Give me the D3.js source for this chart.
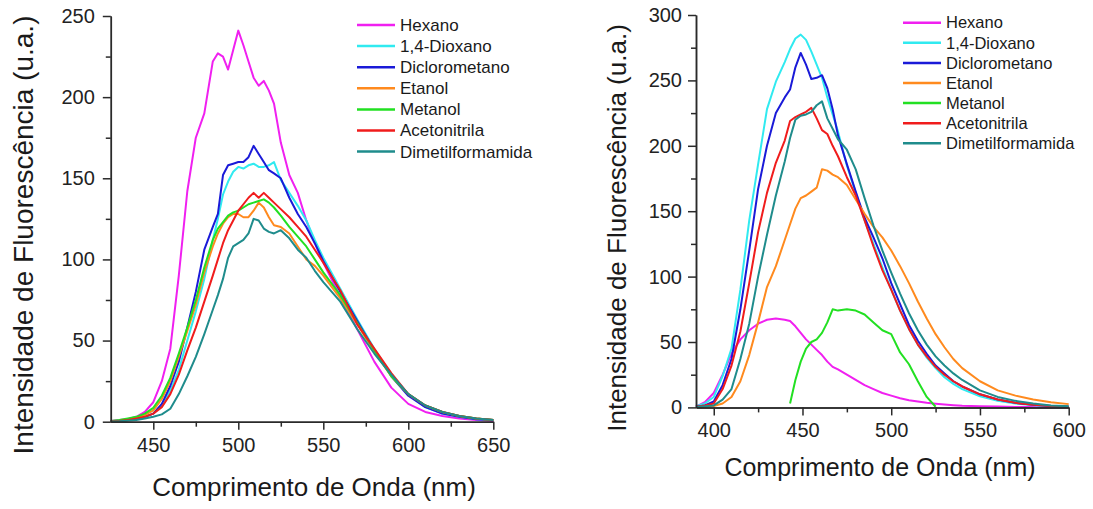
<!DOCTYPE html>
<html>
<head>
<meta charset="utf-8">
<script src="https://cdn.jsdelivr.net/npm/d3@7"></script>
<style>
  html, body { margin: 0; padding: 0; background: #fff; }
  svg { display: block; font-family: "Liberation Sans", Arial, sans-serif; }
</style>
</head>
<body>
<svg id="chart" width="1093" height="509"></svg>
<script>
// legenda / cores
const solventes = ["Hexano", "1,4-Dioxano", "Diclorometano", "Etanol", "Metanol", "Acetonitrila", "Dimetilformamida"];
const cores = ["#f020f0", "#30eaf0", "#1a1ad8", "#ff8a1e", "#22e022", "#f01c1c", "#1f8c8c"];

// painel esquerdo
const leftWl = [425,430,435,440,445,450,455,460,465,470,475,480,485,488,491,494,497,500,503,506,509,512,515,518,521,525,530,535,540,545,550,560,570,580,590,600,610,620,630,640,650];
const leftHexano   = [0.5,1,1.5,3,6,12,25,45,90,142,175,190,222,227,225,217,229,241,232,222,212,207,210,204,196,172,152,141,124,110,98,77,57,37,21,11,6,3.5,2,1,0.5];
const leftDioxano  = [0.3,0.5,1,2,3,5,10,19,32,50,68,88,112,125,140,148,154,157,156,158,159,157,157,158,160,149,141,133,124,112,101,82,63,45,29,17,9,5,3,1.5,1];
const leftDcm      = [0.3,0.5,1,2,3,5,11,22,37,58,80,106,120,128,152,158,159,160,160,163,170,165,160,155,153,150,138,128,120,110,99,80,62,44,28,16,9,5,3,1.5,1];
const leftEtanol   = [0.3,0.6,1.2,2.5,4,7,14,25,40,56,72,92,108,116,122,126,128,128,126,126,130,135,132,126,121,120,116,108,100,96,90,76,60,43,28,17,10,6,3.5,2,1];
const leftMetanol  = [0.5,1,2,3,5,8.5,16,27,42,58,75,95,112,119,123,127,129,130,132,134,135,136,137,135,132,127,120,114,108,100,92,78,61,44,28,17,10,6,3.5,2,1];
const leftAcn      = [0.3,0.5,1,2,3,5,9,17,29,44,58,74,90,100,110,118,124,130,134,138,141,138,141,138,135,131,126,120,114,106,98,81,60,45,30,17,10,6,3.5,2,1];
const leftDmf      = [0.2,0.3,0.6,1,2,3,4.5,8,17,28,40,54,69,78,88,101,108,110,112,116,125,124,119,117,116,118,113,106,101,93,86,74,57,42,29,17,10,6,3.5,2,1];

// painel direito
const rightWl = [390,395,400,405,410,415,420,425,430,435,440,443,446,449,452,455,458,461,464,467,470,475,480,485,490,495,500,505,510,515,520,525,530,535,540,550,560,570,580,590,600];
const rightHexano  = [0.5,4,11,25,41,52,59,64,67,68,67,66,62,57,52,48,44,40,35,31,29,25,21,17,14,11,9,7,5.5,4.5,3.5,2.8,2.2,1.7,1.3,0.9,0.6,0.4,0.3,0.2,0.2];
const rightDioxano = [1,3,8,24,45,90,143,186,228,249,264,274,282,285,281,272,262,252,237,224,211,185,164,143,125,107,90,74,60,48,38,30,23,18,14,8.5,5,3,1.6,0.9,0.5];
const rightDcm     = [0.5,1.5,4.5,17,37,75,120,167,200,225,237,243,260,271,262,251,252,254,244,228,208,186,165,145,130,114,95,79,63,51,41,32,26,20,16,10,6,3.5,2,1,0.5];
const rightEtanol  = [0.2,0.5,1,3,8,20,40,65,92,108,128,140,152,160,162,165,168,182,181,178,176,170,159,148,138,130,120,108,95,81,68,56,46,37,30,20,13,9,6,4,2.5];
const rightMetanol = [null,null,null,null,null,null,null,null,null,null,null,3,21,35,45,50,52,57,65,75,74,75,74,71,65,59,56,42,33,20,8,0.5,null,null,null,null,null,null,null,null,null];
const rightAcn     = [0.5,1.5,3,14,32,58,95,134,164,187,204,219,222,224,226,229,221,212,209,200,192,176,162,143,123,105,90,74,60,48,39,31,25,20,16,10,6,3.5,2,1,0.5];
const rightDmf     = [0.3,0.8,1.5,6,14,37,64,100,132,162,188,206,220,223,224,226,231,234,221,213,205,197,182,160,139,120,103,87,72,59,48,39,32,26,21,13,8,5,3,1.5,0.8];

const leftSeries  = [leftHexano, leftDioxano, leftDcm, leftEtanol, leftMetanol, leftAcn, leftDmf];
const rightSeries = [rightHexano, rightDioxano, rightDcm, rightEtanol, rightMetanol, rightAcn, rightDmf];

const svg = d3.select("#chart");
svg.append("rect").attr("width", 1093).attr("height", 509).attr("fill", "#fff");

function drawPanel(p) {
    const x = d3.scaleLinear().domain(p.xDomain).range(p.xRange);
    const y = d3.scaleLinear().domain(p.yDomain).range(p.yRange);
    const g = svg.append("g");

    const line = d3.line()
        .defined(d => d[1] != null)
        .x(d => x(d[0]))
        .y(d => y(d[1]));

    g.append("g")
        .selectAll("path")
        .data(p.series)
        .enter().append("path")
        .attr("d", s => line(p.wl.map((w, i) => [w, s[i]])))
        .attr("fill", "none")
        .attr("stroke", (s, i) => cores[i])
        .attr("stroke-width", 2)
        .attr("stroke-linejoin", "round");

    // eixos: ticks menores primeiro, depois maiores
    const xMinor = d3.axisBottom(x).tickValues(p.xMinor).tickSize(5).tickSizeOuter(0).tickFormat("");
    const yMinor = d3.axisLeft(y).tickValues(p.yMinor).tickSize(5).tickSizeOuter(0).tickFormat("");
    const xMajor = d3.axisBottom(x).tickValues(p.xTicks).tickSize(8).tickSizeOuter(0).tickPadding(p.xPad);
    const yMajor = d3.axisLeft(y).tickValues(p.yTicks).tickSize(8).tickSizeOuter(0).tickPadding(p.yPad);

    [[xMinor, "x"], [xMajor, "x"], [yMinor, "y"], [yMajor, "y"]].forEach(([ax, k]) => {
        const a = g.append("g")
            .attr("transform", k === "x" ? `translate(0,${p.yRange[0]})` : `translate(${p.xRange[0]},0)`)
            .call(ax);
        a.selectAll("path, line").attr("stroke", "#2a2a2a").attr("stroke-width", 1.5);
        a.selectAll("text").attr("font-size", 20).attr("fill", "#222")
            .attr("font-family", "'Liberation Sans', Arial, sans-serif");
    });

    g.append("text")
        .attr("x", p.xTitle[0]).attr("y", p.xTitle[1])
        .attr("text-anchor", "middle")
        .attr("font-size", p.xTitleSize)
        .attr("fill", "#1a1a1a")
        .text("Comprimento de Onda (nm)");

    g.append("text")
        .attr("transform", `translate(${p.yTitle[0]},${p.yTitle[1]}) rotate(-90)`)
        .attr("text-anchor", "middle")
        .attr("font-size", p.yTitleSize)
        .attr("fill", "#1a1a1a")
        .text("Intensidade de Fluorescência (u.a.)");

    const leg = g.append("g")
        .selectAll("g")
        .data(solventes)
        .enter().append("g")
        .attr("transform", (d, i) => `translate(${p.legX},${p.legY + i * p.legStep})`);
    leg.append("line")
        .attr("x1", 0).attr("x2", 38)
        .attr("stroke", (d, i) => cores[i])
        .attr("stroke-width", 2.5);
    leg.append("text")
        .attr("x", 43).attr("dy", "0.35em")
        .attr("font-size", p.legSize)
        .attr("fill", "#1a1a1a")
        .text(d => d);
}

drawPanel({
    wl: leftWl, series: leftSeries,
    xDomain: [425, 650], xRange: [110.8, 493.3],
    yDomain: [0, 250], yRange: [421.7, 16],
    xTicks: [450, 500, 550, 600, 650], xMinor: [475, 525, 575, 625],
    yTicks: [0, 50, 100, 150, 200, 250], yMinor: [25, 75, 125, 175, 225],
    xPad: 8, yPad: 8,
    xTitle: [314, 496], xTitleSize: 26,
    yTitle: [33, 235], yTitleSize: 28,
    legX: 357, legY: 25, legStep: 21.1, legSize: 17
});

drawPanel({
    wl: rightWl, series: rightSeries,
    xDomain: [390, 600], xRange: [696, 1068.7],
    yDomain: [0, 300], yRange: [407.4, 15],
    xTicks: [400, 450, 500, 550, 600], xMinor: [425, 475, 525, 575],
    yTicks: [0, 50, 100, 150, 200, 250, 300], yMinor: [25, 75, 125, 175, 225, 275],
    xPad: 7, yPad: 6,
    xTitle: [880, 476], xTitleSize: 25,
    yTitle: [626, 228], yTitleSize: 26,
    legX: 903, legY: 22.7, legStep: 20.1, legSize: 16.5
});
</script>
</body>
</html>
